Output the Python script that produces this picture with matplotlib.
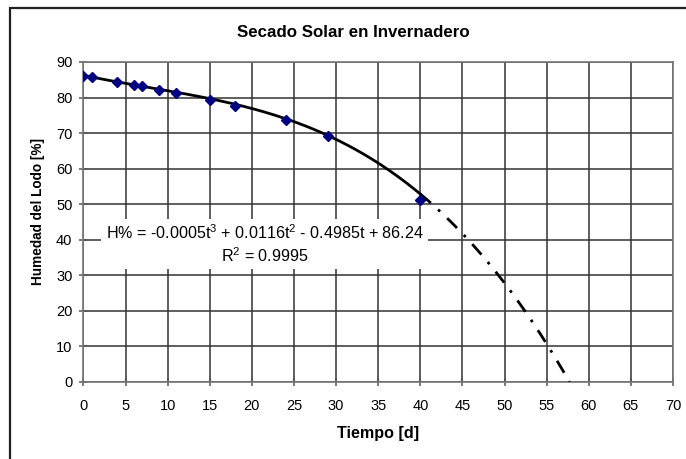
import numpy as np
import matplotlib
matplotlib.use("Agg")
import matplotlib.pyplot as plt
from matplotlib.patches import Rectangle

plt.rcParams["font.family"] = ["Liberation Sans", "DejaVu Sans"]
plt.rcParams["mathtext.fontset"] = "custom"
plt.rcParams["mathtext.rm"] = "Liberation Sans"
plt.rcParams["mathtext.it"] = "Liberation Sans"

# mediciones de humedad del lodo
tiempo = [0, 1, 4, 6, 7, 9, 11, 15, 18, 24, 29, 40]
humedad = [86.0, 85.7, 84.5, 83.5, 83.2, 82.0, 81.3, 79.2, 77.5, 73.6, 69.3, 51.3]

# ajuste polinomial de 3er grado (coef. de mayor a menor)
coef = [-0.0005, 0.0116, -0.4985, 86.24]
r2 = 0.9995

x_ticks = list(range(0, 75, 5))
y_ticks = list(range(0, 100, 10))

fig = plt.figure(figsize=(6.86, 4.59), dpi=100)
ax = fig.add_axes([0.1217, 0.1678, 0.8593, 0.6972])

# marco exterior del grafico
fig.patches.append(Rectangle((10 / 686, -0.1), 1.2, 1 - 8 / 459 + 0.1,
                             transform=fig.transFigure, fill=False,
                             edgecolor="#222222", lw=1.6, clip_on=False))

# curva de ajuste: continua hasta el ultimo dato, luego extrapolada
raices = np.roots(coef)
t_fin = max(r.real for r in raices if abs(r.imag) < 1e-9 and r.real > 0)
t1 = np.linspace(0, tiempo[-1], 200)
t2 = np.linspace(tiempo[-1], t_fin, 200)
ax.plot(t1, np.polyval(coef, t1), color="black", lw=2.0, zorder=3)
ax.plot(t2, np.polyval(coef, t2), color="black", lw=2.0,
        dashes=[5, 3.5, 1, 3.5], zorder=3)

ax.plot(tiempo, humedad, linestyle="none", marker="D", ms=5,
        color="#000080", zorder=4)

eq = ("H% = -0.0005t$^{3}$ + 0.0116t$^{2}$ - 0.4985t + 86.24\n"
      "R$^{2}$ = " + f"{r2:.4f}")
ax.text(21.5, 38.8, eq, ha="center", va="center", fontsize=11.6,
        linespacing=1.3, zorder=5,
        bbox=dict(facecolor="white", edgecolor="none", pad=3))

ax.set_xlim(0, 70)
ax.set_ylim(0, 90)
ax.set_xticks(x_ticks)
ax.set_yticks(y_ticks)
ax.grid(True, color="#333333", lw=1.1)
ax.set_axisbelow(True)
for s in ax.spines.values():
    s.set_color("#777777")
    s.set_linewidth(1.2)
ax.tick_params(direction="inout", length=6, width=1.1, color="#555555",
               labelsize=10.5)
ax.tick_params(axis="x", pad=9.5)
ax.tick_params(axis="y", pad=5)

fig.text(0.5146, 0.930, "Secado Solar en Invernadero", fontsize=12.2,
         fontweight="bold", ha="center", va="center")
ax.set_xlabel("Tiempo [d]", fontsize=11.6, fontweight="bold", labelpad=9)
ax.set_ylabel("Humedad del Lodo [%]", fontsize=9.8, fontweight="bold",
              labelpad=8, y=0.534)

fig.savefig("out.png", dpi=100)
